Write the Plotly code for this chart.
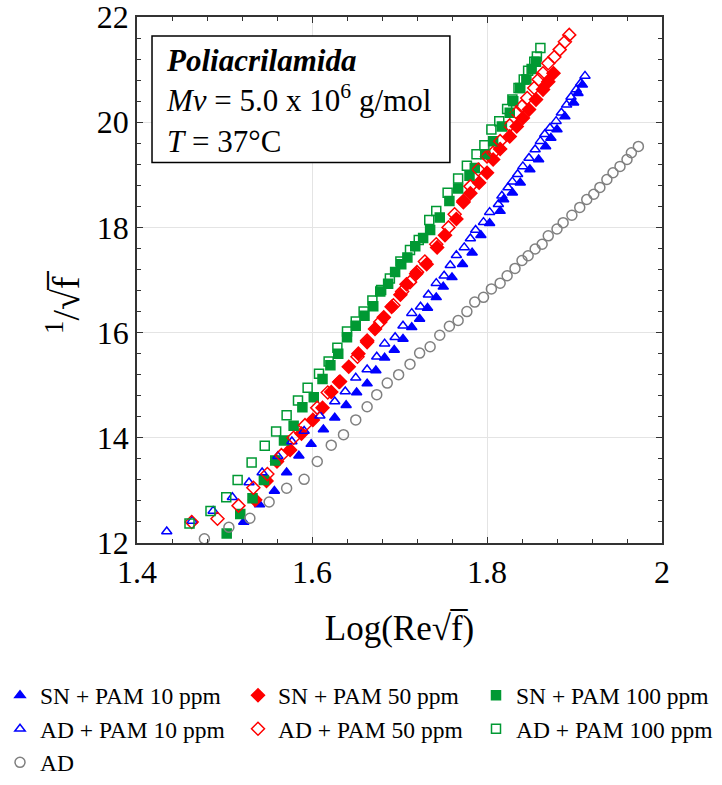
import plotly.graph_objects as go

# ---- data ----
sn10_x = [1.522, 1.540, 1.557, 1.571, 1.585, 1.599, 1.613, 1.626, 1.639, 1.651, 1.663, 1.673, 1.683, 1.694,
          1.704, 1.714, 1.723, 1.732, 1.742, 1.750, 1.760, 1.772, 1.783, 1.793, 1.803, 1.815, 1.819, 1.829,
          1.838, 1.849, 1.859, 1.867, 1.873, 1.880, 1.889, 1.899, 1.904, 1.909]
sn10_y = [12.40, 12.73, 12.99, 13.34, 13.66, 13.88, 14.16, 14.38, 14.62, 14.86, 15.03, 15.28, 15.52, 15.67,
          15.88, 16.10, 16.26, 16.47, 16.67, 16.87, 17.05, 17.30, 17.52, 17.85, 18.08, 18.31, 18.53, 18.66,
          18.85, 19.10, 19.29, 19.54, 19.70, 19.86, 20.11, 20.37, 20.55, 20.71]

sn50_x = [1.535, 1.548, 1.560, 1.575, 1.588, 1.601, 1.612, 1.622, 1.632, 1.642, 1.653, 1.663, 1.672, 1.682,
          1.691, 1.701, 1.708, 1.719, 1.731, 1.743, 1.752, 1.765, 1.773, 1.781, 1.791, 1.800, 1.807, 1.815,
          1.826, 1.834, 1.841, 1.848, 1.856, 1.864, 1.870, 1.876]
sn50_y = [12.82, 13.18, 13.55, 13.77, 14.08, 14.34, 14.57, 14.87, 15.07, 15.35, 15.60, 15.82, 16.07, 16.29,
          16.49, 16.72, 16.92, 17.12, 17.30, 17.62, 17.85, 18.16, 18.48, 18.65, 18.85, 19.04, 19.29, 19.49,
          19.73, 19.92, 20.08, 20.24, 20.43, 20.62, 20.77, 20.93]

sn100_x = [1.5025, 1.518, 1.532, 1.545, 1.558, 1.568, 1.579, 1.589, 1.602, 1.612, 1.621, 1.630, 1.640, 1.650,
           1.660, 1.670, 1.678, 1.687, 1.695, 1.702, 1.709, 1.718, 1.727, 1.735, 1.746, 1.757, 1.767, 1.780,
           1.786, 1.798, 1.807, 1.817, 1.826, 1.830, 1.838, 1.845, 1.851, 1.856]
sn100_y = [12.18, 12.55, 12.85, 13.20, 13.57, 13.95, 14.23, 14.58, 14.77, 15.12, 15.38, 15.60, 15.91, 16.13,
           16.32, 16.50, 16.78, 16.93, 17.15, 17.30, 17.43, 17.64, 17.80, 17.95, 18.19, 18.50, 18.74, 18.98,
           19.13, 19.39, 19.64, 19.92, 20.18, 20.40, 20.65, 20.81, 21.01, 21.15]

ad10_x = [1.434, 1.463, 1.487, 1.509, 1.528, 1.543, 1.561, 1.577, 1.591, 1.609, 1.626, 1.638, 1.650, 1.663,
          1.674, 1.683, 1.695, 1.704, 1.714, 1.724, 1.733, 1.742, 1.751, 1.758, 1.765, 1.774, 1.781, 1.787,
          1.796, 1.803, 1.813, 1.817, 1.824, 1.829, 1.835, 1.841, 1.848, 1.855, 1.861, 1.866, 1.872, 1.879,
          1.885, 1.891, 1.896, 1.902, 1.907, 1.912]
ad10_y = [12.22, 12.42, 12.61, 12.87, 13.15, 13.34, 13.65, 13.93, 14.13, 14.42, 14.69, 14.88, 15.14, 15.30,
          15.54, 15.79, 15.91, 16.13, 16.37, 16.49, 16.72, 16.94, 17.08, 17.28, 17.47, 17.62, 17.79, 17.95,
          18.10, 18.29, 18.44, 18.60, 18.76, 18.87, 19.01, 19.16, 19.32, 19.48, 19.64, 19.77, 19.89, 20.02,
          20.18, 20.33, 20.48, 20.62, 20.74, 20.88]

ad50_x = [1.4625, 1.492, 1.516, 1.533, 1.549, 1.565, 1.579, 1.592, 1.606, 1.618, 1.631, 1.652, 1.663, 1.678,
          1.693, 1.703, 1.712, 1.720, 1.729, 1.742, 1.756, 1.763, 1.773, 1.781, 1.790, 1.800, 1.807, 1.815,
          1.826, 1.834, 1.840, 1.846, 1.854, 1.859, 1.864, 1.870, 1.877, 1.883, 1.889, 1.894]
ad50_y = [12.40, 12.46, 12.71, 13.05, 13.31, 13.67, 14.00, 14.24, 14.57, 14.86, 15.06, 15.54, 15.85, 16.20,
          16.52, 16.78, 16.96, 17.15, 17.35, 17.68, 18.00, 18.25, 18.50, 18.78, 19.10, 19.35, 19.42, 19.64,
          19.94, 20.18, 20.30, 20.46, 20.65, 20.81, 20.93, 21.12, 21.24, 21.38, 21.53, 21.66]

ad100_x = [1.460, 1.484, 1.502, 1.515, 1.531, 1.546, 1.559, 1.571, 1.584, 1.595, 1.608, 1.619, 1.629, 1.640,
           1.650, 1.659, 1.669, 1.679, 1.689, 1.701, 1.712, 1.722, 1.734, 1.742, 1.755, 1.767, 1.777, 1.788,
           1.797, 1.805, 1.814, 1.823, 1.829, 1.836, 1.842, 1.847, 1.854, 1.857, 1.861]
ad100_y = [12.37, 12.61, 12.87, 13.20, 13.53, 13.85, 14.12, 14.43, 14.71, 14.95, 15.22, 15.45, 15.71, 16.02,
           16.21, 16.40, 16.61, 16.81, 17.03, 17.35, 17.57, 17.76, 18.14, 18.31, 18.66, 18.93, 19.17, 19.39,
           19.56, 19.86, 20.02, 20.25, 20.43, 20.65, 20.81, 20.98, 21.15, 21.25, 21.41]

ad_x = [1.477, 1.505, 1.529, 1.551, 1.571, 1.591, 1.606, 1.622, 1.636, 1.650, 1.663, 1.674, 1.686, 1.699,
        1.712, 1.723, 1.735, 1.746, 1.757, 1.767, 1.777, 1.786, 1.796, 1.805, 1.815, 1.823, 1.832, 1.840,
        1.847, 1.855, 1.863, 1.870, 1.880, 1.887, 1.897, 1.906, 1.914, 1.922, 1.929, 1.937, 1.944, 1.952,
        1.960, 1.965, 1.973]
ad_y = [12.08, 12.30, 12.47, 12.78, 13.04, 13.21, 13.55, 13.86, 14.06, 14.34, 14.59, 14.82, 15.04, 15.20,
        15.40, 15.61, 15.73, 15.95, 16.12, 16.23, 16.40, 16.58, 16.67, 16.83, 16.94, 17.08, 17.22, 17.37,
        17.46, 17.59, 17.68, 17.84, 17.97, 18.09, 18.23, 18.38, 18.53, 18.63, 18.76, 18.91, 19.04, 19.16,
        19.29, 19.42, 19.54]

names = ["SN + PAM 10 ppm", "SN + PAM 50 ppm", "SN + PAM 100 ppm",
         "AD + PAM 10 ppm", "AD + PAM 50 ppm", "AD + PAM 100 ppm", "AD"]

x_ticks = [1.4, 1.6, 1.8, 2.0]
x_ticktext = ["1.4", "1.6", "1.8", "2"]
y_ticks = [12, 14, 16, 18, 20, 22]

BLUE, RED, GREEN, GRAY = "#0000FF", "#FF0000", "#009933", "#808080"
FONT = "Liberation Serif, Times New Roman, serif"

series = [
    (sn10_x, sn10_y, names[0], "triangle-up", BLUE, 9),
    (sn50_x, sn50_y, names[1], "diamond", RED, 10),
    (sn100_x, sn100_y, names[2], "square", GREEN, 9),
    (ad10_x, ad10_y, names[3], "triangle-up-open", BLUE, 9),
    (ad50_x, ad50_y, names[4], "diamond-open", RED, 10),
    (ad100_x, ad100_y, names[5], "square-open", GREEN, 9),
    (ad_x, ad_y, names[6], "circle-open", GRAY, 10),
]

fig = go.Figure()
for xs, ys, nm, sym, col, sz in series:
    fig.add_trace(go.Scatter(
        x=xs, y=ys, name=nm, mode="markers",
        marker=dict(symbol=sym, color=col, size=sz, line=dict(color=col, width=1.5)),
    ))

axis_common = dict(
    showline=True, linecolor="#333333", linewidth=1.5, mirror="ticks",
    ticks="inside", ticklen=6, tickcolor="#333333", tickwidth=1,
    showgrid=True, gridcolor="#e4e4e4", gridwidth=1, zeroline=False,
    tickfont=dict(family=FONT, size=32, color="black"),
    automargin=False, ticklabeloverflow="allow",
)

fig.update_xaxes(
    range=[1.4, 2.0], tickvals=x_ticks, ticktext=x_ticktext,
    domain=[0, 525 / 585],
    minor=dict(ticks="inside", ticklen=4, dtick=0.04, tick0=1.4, tickcolor="#333333", showgrid=False),
    title=dict(text="Log(Re√f\u0305)", font=dict(family=FONT, size=35, color="black"), standoff=26),
    **axis_common,
)
fig.update_yaxes(
    range=[12, 22], tickvals=y_ticks,
    minor=dict(ticks="inside", ticklen=4, dtick=0.4, tick0=12, tickcolor="#333333", showgrid=False),
    **axis_common,
)

# y-axis title (rotated text)
fig.add_annotation(
    xref="paper", yref="y domain", x=(63 - 137) / 585, y=(545 - 303) / 528,
    xanchor="center", yanchor="middle", textangle=-90, showarrow=False,
    text="<sup>1</sup>/√f\u0305", font=dict(family=FONT, size=38, color="black"),
)

# info box
fig.add_shape(type="rect", xref="x domain", yref="y domain",
              x0=0.0286, x1=0.596, y0=0.7235, y1=0.964,
              line=dict(color="black", width=1.5), fillcolor="white", layer="above")
fig.add_annotation(
    xref="x domain", yref="y domain", x=0.052, y=0.955, xanchor="left", yanchor="top",
    align="left", showarrow=False,
    text="<b><i>Poliacrilamida</i></b><br><i>Mv</i> = 5.0 x 10<sup>6</sup> g/mol<br><i>T</i> = 37°C",
    font=dict(family=FONT, size=31, color="black"),
)

fig.update_layout(
    width=722, height=785,
    margin=dict(l=137, r=0, t=17, b=240),
    paper_bgcolor="white", plot_bgcolor="white",
    font=dict(family=FONT, color="black"),
    legend=dict(
        orientation="h", x=-137 / 585, y=-0.248, xanchor="left", yanchor="top",
        font=dict(family=FONT, size=23.5, color="black"),
        entrywidth=193, itemwidth=30,
    ),
    showlegend=True,
)

fig.write_html("out.html")
